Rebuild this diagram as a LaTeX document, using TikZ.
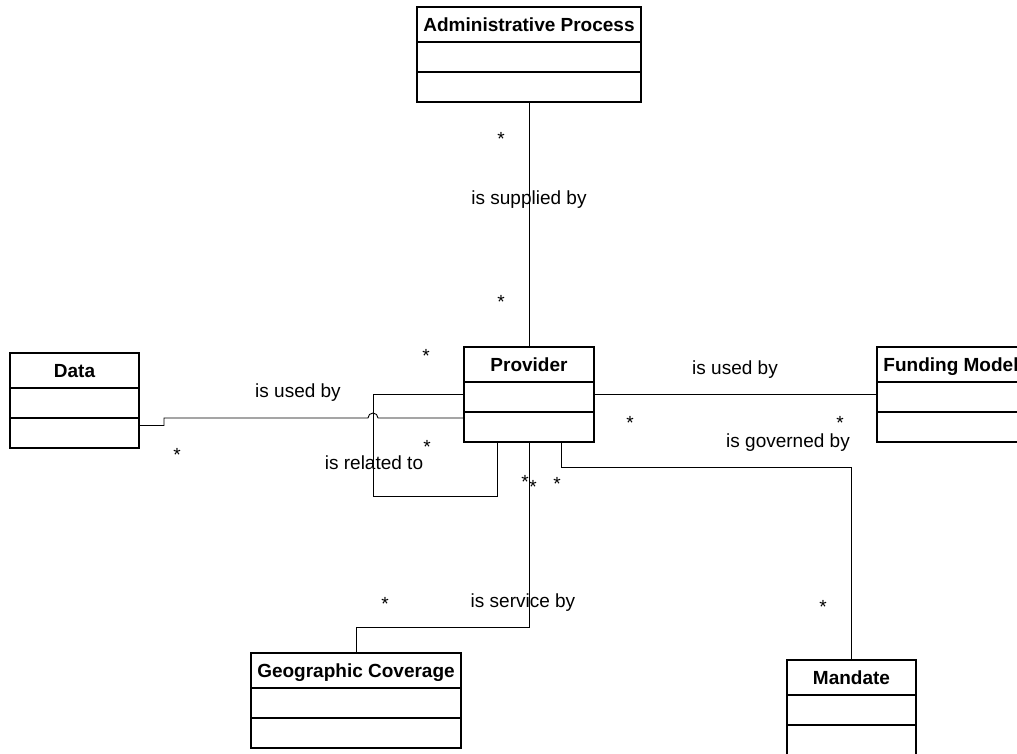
\documentclass[tikz,border=0pt]{standalone}
\usepackage{fontspec}
\setmainfont{Liberation Sans}
% class box: name, left x, top y, width, title
\newcommand\umlclass[5]{%
  \node[classbox, minimum width=#4pt] (#1) at (#2,#3) {};
  \node[classtitle] (#1-title) at ([yshift=-24pt]#1.north) {#5};
  \draw[divider] ([yshift=-35pt]#1.north west) -- ([yshift=-35pt]#1.north east);
  \draw[divider] ([yshift=-65pt]#1.north west) -- ([yshift=-65pt]#1.north east);
}
\begin{document}
\begin{tikzpicture}[x=1pt,y=-1pt,
  classbox/.style={draw, line width=1.6pt, rectangle, inner sep=0pt, outer sep=0pt,
                   minimum height=95pt, anchor=north west},
  classtitle/.style={font=\bfseries\fontsize{19}{22}\selectfont, inner sep=0pt, anchor=base},
  divider/.style={line width=1.6pt},
  conn/.style={line width=0.9pt},
  lbl/.style={font=\fontsize{19}{22}\selectfont, inner sep=0pt, anchor=base},
  mult/.style={font=\fontsize{19}{22}\selectfont, inner sep=0pt},
]
\useasboundingbox (0,0) rectangle (1017,753);

% classes
\umlclass{admin}{417}{7}{224}{Administrative Process}
\umlclass{data}{10}{353}{129}{Data}
\umlclass{prov}{464}{347}{130}{Provider}
\umlclass{fund}{877}{347}{148}{Funding Model}
\umlclass{geo}{251}{653}{210}{Geographic Coverage}
\umlclass{mand}{787}{660}{129}{Mandate}

% associations
\draw[conn] (admin.south) -- (prov.north);
\draw[conn] ([yshift=-25pt]data.east) -- (164,425.5) -- (164,418) -- (368,418)
   arc[start angle=180, end angle=0, radius=5pt] -- ([yshift=-71pt]prov.north west);
\draw[conn] ([yshift=-47pt]prov.north west) -| (373,496) -| ([xshift=33pt]prov.south west);
\draw[conn] ([yshift=-47pt]prov.north east) -- ([yshift=-47pt]fund.north west);
\draw[conn] (prov.south) -- ++(0,185) -| (geo.north);
\draw[conn] ([xshift=32pt]prov.south) -- ++(0,25) -| (mand.north);

% association names
\node[lbl] (l1) at (529,204) {is supplied by};
\node[lbl] (l2) at (298,397) {is used by};
\node[lbl] (l3) at (374,469) {is related to};
\node[lbl] (l4) at (735,374) {is used by};
\node[lbl] (l5) at (788,447) {is governed by};
\node[lbl] (l6) at (523,607) {is service by};

% multiplicities
\node[mult] (m1) at (501,139) {*};
\node[mult] (m2) at (501,302) {*};
\node[mult] (m3) at (426,356) {*};
\node[mult] (m4) at (177,455) {*};
\node[mult] (m5) at (427,447) {*};
\node[mult] (m6) at (525,482) {*};
\node[mult] (m7) at (533,487) {*};
\node[mult] (m8) at (557,484) {*};
\node[mult] (m9) at (630,423) {*};
\node[mult] (m10) at (840,423) {*};
\node[mult] (m11) at (385,604) {*};
\node[mult] (m12) at (823,607) {*};
\end{tikzpicture}
\end{document}
